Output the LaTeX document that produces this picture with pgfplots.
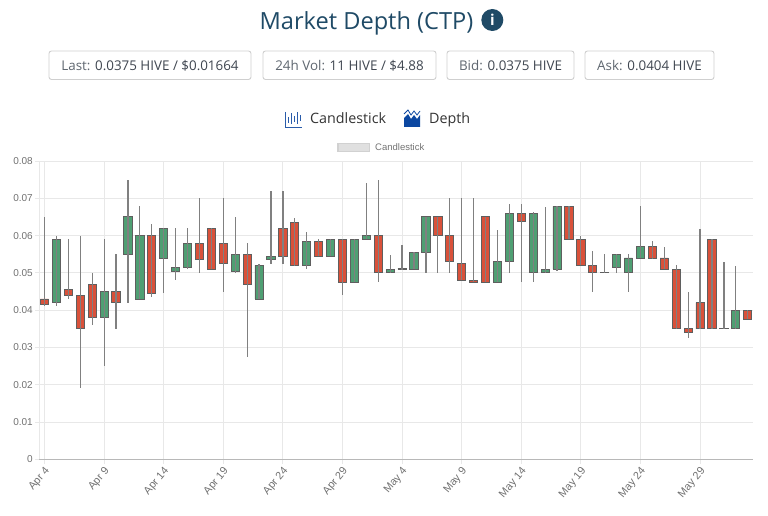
\documentclass[border=0pt]{standalone}
\usepackage{fontspec}
\setmainfont{Open Sans}
\newfontfamily\chartfont{Liberation Sans}
\usepackage{pgfplots}
\usepackage{pgfplotstable}
\pgfplotsset{compat=1.18}

\definecolor{upc}{HTML}{4F9F73}
\definecolor{downc}{HTML}{D9513A}
\definecolor{boxline}{HTML}{5F5F5F}
\definecolor{wick}{HTML}{808080}
\definecolor{gridc}{HTML}{E8E8E8}
\definecolor{tickc}{HTML}{707070}
\definecolor{titlec}{HTML}{1F4A66}
\definecolor{btnline}{HTML}{CFCFCF}
\definecolor{btnlabel}{HTML}{5F6770}
\definecolor{btnvalue}{HTML}{3F4650}
\definecolor{iconblue}{HTML}{2A5CAA}
\definecolor{icondark}{HTML}{0B47A1}

% day low boxlow boxhigh high, up=1 for green
\pgfplotstableread{
day low lo hi high up
0 0.0410 0.0415 0.0430 0.0650 0
1 0.0412 0.0420 0.0590 0.0600 1
2 0.0430 0.0440 0.0455 0.0590 0
3 0.0190 0.0350 0.0440 0.0600 0
4 0.0360 0.0380 0.0470 0.0500 0
5 0.0250 0.0380 0.0450 0.0590 1
6 0.0350 0.0420 0.0450 0.0550 0
7 0.0420 0.0550 0.0650 0.0750 1
8 0.0430 0.0430 0.0600 0.0680 1
9 0.0435 0.0445 0.0600 0.0630 0
10 0.0445 0.0540 0.0620 0.0620 1
11 0.0480 0.0505 0.0515 0.0620 1
12 0.0510 0.0515 0.0580 0.0620 1
13 0.0500 0.0535 0.0580 0.0700 0
14 0.0510 0.0510 0.0620 0.0620 0
15 0.0450 0.0525 0.0580 0.0700 0
16 0.0500 0.0505 0.0550 0.0650 1
17 0.0275 0.0470 0.0550 0.0580 0
18 0.0430 0.0430 0.0520 0.0525 1
19 0.0525 0.0535 0.0545 0.0720 1
20 0.0525 0.0545 0.0620 0.0720 0
21 0.0518 0.0520 0.0635 0.0648 0
22 0.0510 0.0520 0.0585 0.0610 1
23 0.0545 0.0545 0.0585 0.0590 0
24 0.0545 0.0545 0.0590 0.0590 1
25 0.0440 0.0475 0.0590 0.0590 0
26 0.0475 0.0475 0.0590 0.0590 1
27 0.0590 0.0590 0.0600 0.0740 1
28 0.0475 0.0500 0.0600 0.0750 0
29 0.0500 0.0500 0.0510 0.0548 1
30 0.0508 0.0510 0.0512 0.0575 1
31 0.0510 0.0510 0.0555 0.0555 1
32 0.0500 0.0555 0.0650 0.0650 1
33 0.0500 0.0600 0.0650 0.0650 0
34 0.0500 0.0530 0.0600 0.0700 0
35 0.0480 0.0480 0.0525 0.0700 0
36 0.0475 0.0475 0.0480 0.0700 0
37 0.0475 0.0475 0.0650 0.0650 0
38 0.0475 0.0475 0.0530 0.0615 1
39 0.0500 0.0530 0.0660 0.0685 1
40 0.0475 0.0638 0.0660 0.0685 0
41 0.0475 0.0500 0.0660 0.0662 1
42 0.0500 0.0500 0.0510 0.0676 1
43 0.0505 0.0510 0.0678 0.0680 1
44 0.0590 0.0590 0.0678 0.0678 0
45 0.0520 0.0520 0.0590 0.0600 0
46 0.0450 0.0500 0.0520 0.0558 0
47 0.0500 0.0500 0.0501 0.0550 1
48 0.0500 0.0515 0.0550 0.0550 1
49 0.0450 0.0500 0.0540 0.0550 1
50 0.0540 0.0540 0.0570 0.0678 1
51 0.0538 0.0538 0.0570 0.0585 0
52 0.0510 0.0510 0.0540 0.0570 0
53 0.0350 0.0350 0.0510 0.0520 0
54 0.0325 0.0340 0.0350 0.0448 0
55 0.0350 0.0350 0.0420 0.0618 0
56 0.0350 0.0350 0.0590 0.0590 0
57 0.0350 0.0350 0.0351 0.0528 1
58 0.0350 0.0350 0.0400 0.0518 1
59 0.0375 0.0375 0.0400 0.0400 0
}\candles

\begin{document}
\begin{tikzpicture}
\begin{scope}[x=1pt,y=1pt]
\path[use as bounding box] (0,0) rectangle (768,515);

% page header
\node[anchor=center,text=titlec,font=\fontsize{23.6}{28}\selectfont] at (366.5,491.5) {Market Depth (CTP)};
\fill[titlec] (492.3,495) circle (11);
\node[text=white,font=\fontsize{15}{16}\bfseries\selectfont] at (492.3,495) {i};

\foreach \xa/\xb/\txt/\val in {49/251/Last:/{0.0375 HIVE / \$0.01664},263/436/24h Vol:/{11 HIVE / \$4.88},447/574/Bid:/{0.0375 HIVE},585/714/Ask:/{0.0404 HIVE}}{
  \draw[btnline,rounded corners=2.5,line width=0.9pt,fill=white] (\xa,435.5) rectangle (\xb,464);
  \node[font=\fontsize{13.4}{16}\selectfont] at ({(\xa+\xb)/2},449.5) {\textcolor{btnlabel}{\txt} \textcolor{btnvalue}{\val}};
}

% view switch
\begin{scope}[shift={(285.5,388)},iconblue,line width=0.7pt]
  \draw (0,15) -- (0,0) -- (16,0);
  \foreach \x/\a/\b in {3/4/10,6/3/14,9/5/11,12/3/15,15/6/12}{\draw (\x,\a) -- (\x,\b);}
\end{scope}
\node[anchor=base west,inner sep=0pt,font=\fontsize{14.3}{18}\selectfont,text=black!80] at (310,391.5) {Candlestick};
\draw[icondark,line width=0.8pt] (404,401) -- (408,405) -- (411,400) -- (414,404) -- (417,400) -- (420,404);
\fill[icondark] (404,388) -- (404,397) -- (408,401) -- (411,396) -- (414,400) -- (417,396) -- (420,400) -- (420,388) -- cycle;
\node[anchor=base west,inner sep=0pt,font=\fontsize{14.3}{18}\selectfont,text=black!80] at (429,391.5) {Depth};

% chart legend
\draw[fill=black!12,draw=black!18,line width=1.6pt] (338,363.5) rectangle (369.5,371.5);
\node[anchor=west,inner sep=0pt,text=black!55,font=\chartfont\fontsize{9.5}{11}\selectfont] at (375,368) {Candlestick};
\end{scope}

\begin{axis}[
  at={(39.5pt,55.7pt)}, anchor=south west,
  scale only axis, width=713.5pt, height=298.3pt,
  xmin=-0.42, xmax=59.44, ymin=0, ymax=0.08,
  axis x line=bottom, axis y line=left,
  axis line style={-, draw=black!28, line width=0.9pt},
  y axis line style={draw=gridc},
  grid=major, major grid style={draw=gridc, line width=0.9pt},
  tick align=outside, major tick length=4.5pt,
  major tick style={draw=gridc, line width=0.9pt},
  xtick={0,5,...,55},
  xticklabels={Apr 4,Apr 9,Apr 14,Apr 19,Apr 24,Apr 29,May 4,May 9,May 14,May 19,May 24,May 29},
  x tick label style={rotate=50, anchor=north east, inner sep=1pt, xshift=-1pt, font=\chartfont\fontsize{10.8}{12}\selectfont, text=tickc},
  ytick={0,0.01,0.02,0.03,0.04,0.05,0.06,0.07,0.08},
  scaled y ticks=false,
  y tick label style={/pgf/number format/fixed, /pgf/number format/precision=2, /pgf/number format/assume math mode=true,
    font=\chartfont\fontsize{10}{12}\selectfont, text=tickc, inner sep=2pt},
  ybar stacked, bar width=8.2pt,
]
% wicks
\addplot[stack plots=false, sharp plot, no marks, draw=none,
  error bars/.cd, y dir=both, y explicit, error mark=none,
  error bar style={draw=wick, line width=1.2pt}]
  table[x=day, y=lo, y error plus expr=\thisrow{high}-\thisrow{lo}, y error minus expr=\thisrow{lo}-\thisrow{low}] {\candles};
% invisible base, then the two colours; a zero height lands on the other colour's edge
\addplot[draw=none, fill=none] table[x=day, y=lo] {\candles};
\addplot[draw=boxline, line width=0.9pt, fill=downc] table[x=day, y expr=(1-\thisrow{up})*(\thisrow{hi}-\thisrow{lo})] {\candles};
\addplot[draw=boxline, line width=0.9pt, fill=upc] table[x=day, y expr=\thisrow{up}*(\thisrow{hi}-\thisrow{lo})] {\candles};
\end{axis}
\end{tikzpicture}
\end{document}
